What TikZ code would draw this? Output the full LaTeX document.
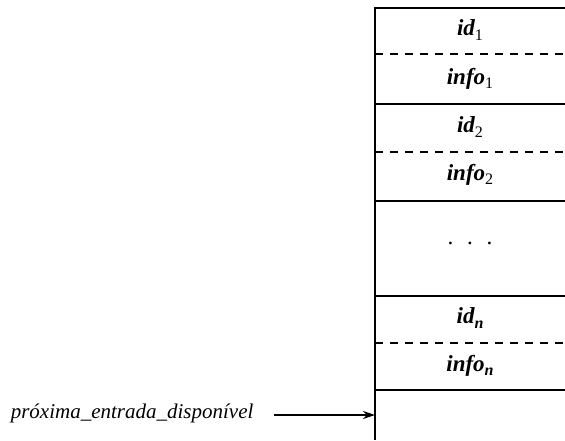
\documentclass[tikz,border=0pt]{standalone}
\usepackage{fontspec}
\setmainfont{Liberation Serif}
\usetikzlibrary{arrows.meta,positioning}

\newcommand\lowidx[1]{\raisebox{-0.4ex}{\fontsize{16}{16}\selectfont #1}}

\begin{document}
\begin{tikzpicture}[x=1pt,y=-1pt,
  cell/.style={font=\fontsize{23}{26}\selectfont\bfseries\itshape},
  sep/.style={dash pattern=on 8pt off 7pt, line width=1.5pt},
  rule/.style={line width=1.8pt}]
  \useasboundingbox (0,0) rectangle (565,440);

  % Frame of the table
  \draw[rule] (565,8) -- (375,8) -- (375,440);

  % Solid separators
  \foreach \y in {104,201,296,390} {
    \draw[rule] (375,\y) -- (565,\y);
  }
  % Dashed separators
  \foreach \y in {54,152,343} {
    \draw[sep] (375,\y) -- (565,\y);
  }

  % Cells
  \node[cell] (id1) at (470,30) {id\lowidx{\upshape\mdseries 1}};
  \node[cell] (info1) at (470,79) {info\lowidx{\upshape\mdseries 1}};
  \node[cell] (id2) at (470,127) {id\lowidx{\upshape\mdseries 2}};
  \node[cell] (info2) at (470,175) {info\lowidx{\upshape\mdseries 2}};
  \node[cell] (dots) at (470,243) {\mdseries\upshape .\hspace{0.6em}.\hspace{0.6em}.};
  \node[cell] (idn) at (470,318) {id\lowidx{n}};
  \node[cell] (infon) at (470,366) {info\lowidx{n}};

  % Pointer to the next free entry
  \coordinate (free) at (375,415);
  \node[anchor=east, font=\fontsize{21}{24}\selectfont\itshape] (next) at (257,413) {próxima\_entrada\_disponível};
  \draw[-{Stealth[length=12pt,width=8pt]}, line width=1.6pt, shorten <=17pt] (next.east |- free) -- (free);
\end{tikzpicture}
\end{document}
